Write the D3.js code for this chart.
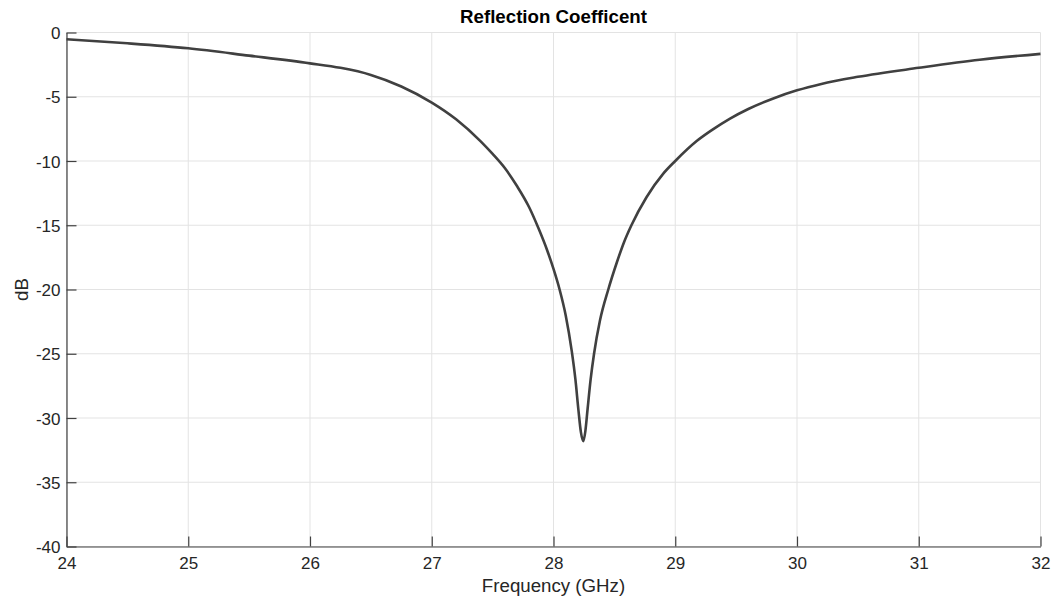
<!DOCTYPE html>
<html>
<head>
<meta charset="utf-8">
<script src="https://cdn.jsdelivr.net/npm/d3@7"></script>
<style>
  html, body { margin: 0; padding: 0; background: #fff; }
  svg { display: block; font-family: "Liberation Sans", Arial, Helvetica, sans-serif; }
</style>
</head>
<body>
<svg id="chart" width="1056" height="601"></svg>
<script>
// Data
const freqGHz = [24.0, 24.5, 25.0, 25.5, 26.0, 26.25, 26.5, 26.75, 27.0, 27.2, 27.4, 27.5, 27.6, 27.7, 27.8, 27.875, 27.95, 28.0, 28.05, 28.1, 28.15, 28.18, 28.205, 28.225, 28.245, 28.262, 28.28, 28.305, 28.333, 28.382, 28.45, 28.52, 28.58, 28.64, 28.765, 28.9, 29.0, 29.176, 29.3, 29.45, 29.6, 29.8, 30.0, 30.2, 30.5, 31.0, 31.5, 32.0];
const reflDB  = [-0.53, -0.84, -1.23, -1.8, -2.4, -2.75, -3.3, -4.2, -5.45, -6.75, -8.45, -9.45, -10.55, -11.95, -13.6, -15.2, -17.0, -18.4, -20.0, -22.0, -24.8, -27.0, -29.4, -31.1, -31.8, -31.0, -29.3, -27.0, -25.0, -22.4, -20.0, -17.9, -16.3, -15.0, -12.8, -11.0, -10.0, -8.45, -7.6, -6.7, -5.95, -5.15, -4.5, -4.0, -3.45, -2.75, -2.12, -1.66];
const xTicks = [24, 25, 26, 27, 28, 29, 30, 31, 32];
const yTicks = [0, -5, -10, -15, -20, -25, -30, -35, -40];
const titleText = "Reflection Coefficent";
const xLabelText = "Frequency (GHz)";
const yLabelText = "dB";

const svg = d3.select("#chart");
const m = { left: 66.5, right: 1040.5, top: 32.5, bottom: 546.5 };

const x = d3.scaleLinear().domain([24, 32]).range([m.left, m.right]);
const y = d3.scaleLinear().domain([-40, 0]).range([m.bottom, m.top]);

const gridColor = "#e3e3e3";
const axisColor = "#404040";
const textColor = "#262626";

// Grid lines
const grid = svg.append("g");
grid.selectAll("line.vx").data(xTicks).join("line")
  .attr("x1", d => x(d)).attr("x2", d => x(d))
  .attr("y1", m.top).attr("y2", m.bottom)
  .attr("stroke", gridColor).attr("stroke-width", 1);
grid.selectAll("line.hy").data(yTicks).join("line")
  .attr("x1", m.left).attr("x2", m.right)
  .attr("y1", d => y(d)).attr("y2", d => y(d))
  .attr("stroke", gridColor).attr("stroke-width", 1);

// Axes (ticks inward), hyphen-minus labels like the reference
const fmt = d => String(d);
const xAxis = d3.axisBottom(x).tickValues(xTicks).tickFormat(fmt).tickSizeInner(-10).tickSizeOuter(0).tickPadding(19);
const yAxis = d3.axisLeft(y).tickValues(yTicks).tickFormat(fmt).tickSizeInner(-10).tickSizeOuter(0).tickPadding(16);

const gx = svg.append("g").attr("transform", `translate(0,${m.bottom})`).call(xAxis);
const gy = svg.append("g").attr("transform", `translate(${m.left},0)`).call(yAxis);

[gx, gy].forEach(g => {
  g.select(".domain").attr("stroke", axisColor).attr("stroke-width", 1.2);
  g.selectAll(".tick line").attr("stroke", axisColor).attr("stroke-width", 1.2);
  g.selectAll(".tick text").attr("fill", textColor)
    .style("font-size", "17px").style("font-family", "Liberation Sans, Arial, sans-serif");
});
gy.selectAll(".tick text").attr("x", -6).attr("dy", "0.36em");
gx.selectAll(".tick text").attr("dy", "0.72em").attr("y", 10);

// Curve
const line = d3.line()
  .x((d, i) => x(freqGHz[i]))
  .y(d => y(d))
  .curve(d3.curveMonotoneX);

svg.append("path")
  .datum(reflDB)
  .attr("d", line)
  .attr("fill", "none")
  .attr("stroke", "#404040")
  .attr("stroke-width", 2.6)
  .attr("stroke-linejoin", "round");

// Title
svg.append("text")
  .attr("x", (m.left + m.right) / 2).attr("y", 23)
  .attr("text-anchor", "middle")
  .attr("fill", "#000")
  .style("font-size", "18.7px").style("font-weight", "bold")
  .text(titleText);

// X label
svg.append("text")
  .attr("x", (m.left + m.right) / 2).attr("y", 592)
  .attr("text-anchor", "middle")
  .attr("fill", textColor)
  .style("font-size", "18.7px")
  .text(xLabelText);

// Y label
svg.append("text")
  .attr("transform", `translate(28,${(m.top + m.bottom) / 2}) rotate(-90)`)
  .attr("text-anchor", "middle")
  .attr("fill", textColor)
  .style("font-size", "18.7px")
  .text(yLabelText);
</script>
</body>
</html>
